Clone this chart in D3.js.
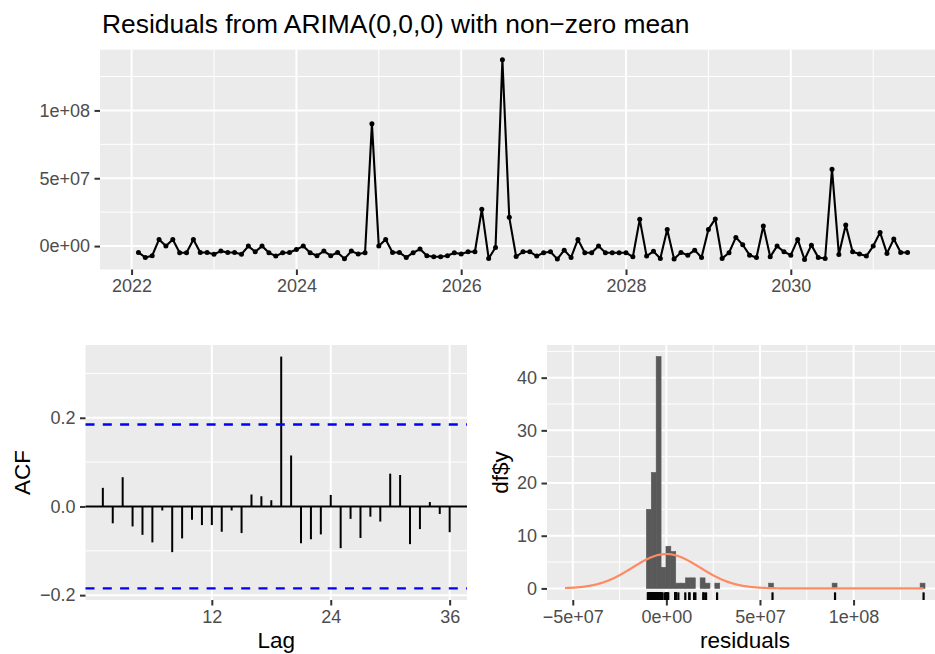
<!DOCTYPE html>
<html>
<head>
<meta charset="utf-8">
<script src="https://cdn.jsdelivr.net/npm/d3@7"></script>
<style>
  body { margin: 0; background: #fff; }
  svg { display: block; font-family: "Liberation Sans", Arial, sans-serif; }
</style>
</head>
<body>
<svg id="chart"></svg>
<script>
const width = 935;
const height = 654;

const title = 'Residuals from ARIMA(0,0,0) with non\u2212zero mean';

// monthly series, starts Feb 2022; values in units of 1e7
const startYear = 2022;
const startMonth = 2;
const unit = 1e7;
const residualsE7 = [
  -0.47, -0.84, -0.71, 0.49, 0.00, 0.49, -0.49, -0.49, 0.49, -0.47,
  -0.47, -0.60, -0.37, -0.47, -0.47, -0.60, 0.00, -0.42, 0.00, -0.49,
  -0.74, -0.49, -0.47, -0.25, 0.00, -0.49, -0.71, -0.37, -0.71, -0.47,
  -0.94, -0.37, -0.59, -0.49, 9.01, 0.00, 0.49, -0.47, -0.47, -0.84,
  -0.49, -0.22, -0.71, -0.79, -0.79, -0.71, -0.49, -0.59, -0.42, -0.42,
  2.71, -0.91, -0.10, 13.74, 2.12, -0.77, -0.42, -0.42, -0.74, -0.49,
  -0.42, -0.96, -0.30, -0.84, 0.49, -0.49, -0.49, 0.00, -0.49, -0.49,
  -0.49, -0.49, -0.79, 1.97, -0.74, -0.39, -0.91, 1.23, -0.96, -0.47,
  -0.67, -0.30, -0.84, 1.23, 2.00, -0.91, -0.49, 0.64, 0.10, -0.67,
  -0.84, 1.48, -0.79, 0.00, -0.42, -0.67, 0.49, -0.99, 0.07, -0.84,
  -0.91, 5.67, -0.62, 1.55, -0.42, -0.59, -0.74, 0.00, 1.01, -0.54,
  0.52, -0.47, -0.47
];
const yearTicks = [2022, 2024, 2026, 2028, 2030];
const yearMinor = [2023, 2025, 2027, 2029, 2031];
const residTicks = [0, 5e7, 1e8];
const residMinor = [2.5e7, 7.5e7, 1.25e8];

// ACF, lags 1..36
const acfValues = [
  0.042, -0.038, 0.066, -0.045, -0.064, -0.081, -0.009, -0.103, -0.072, -0.030,
  -0.042, -0.042, -0.057, -0.009, -0.060, 0.027, 0.023, 0.014, 0.338, 0.115,
  -0.083, -0.074, -0.063, 0.026, -0.094, -0.028, -0.071, -0.023, -0.034, 0.074,
  0.071, -0.085, -0.051, 0.010, -0.017, -0.058
];
const acfBound = 0.1848;
const lagTicks = [12, 24, 36];
const acfTicks = [-0.2, 0, 0.2];
const acfMinor = [-0.1, 0.1, 0.3];

// histogram of residuals
const binStart = -1.067e7;
const binWidth = 2.611e6;
const histCounts = [
  15, 22, 44, 4, 8, 7, 1, 1, 2, 2,
  0, 2, 1, 0, 1, 0, 0, 0, 0, 0,
  0, 0, 0, 0, 0, 1, 0, 0, 0, 0,
  0, 0, 0, 0, 0, 0, 0, 0, 1, 0,
  0, 0, 0, 0, 0, 0, 0, 0, 0, 0,
  0, 0, 0, 0, 0, 0, 1
];
const histXTicks = [-5e7, 0, 5e7, 1e8];
const histXMinor = [-2.5e7, 2.5e7, 7.5e7, 1.25e8];
const countTicks = [0, 10, 20, 30, 40];
const countMinor = [5, 15, 25, 35, 45];

const residuals = residualsE7.map(v => v * unit);
const series = residuals.map((v, i) => ({ t: startYear + (startMonth - 1 + i) / 12, v }));

const svg = d3.select('#chart').attr('width', width).attr('height', height);

const expand = ([a, b]) => { const d = (b - a) * 0.05; return [a - d, b + d]; };
const minus = s => s.replace(/-/g, '\u2212');
const sci = d => {
  const [m, e] = d.toExponential(0).split('e');
  return minus(m + 'e' + e[0] + e.slice(1).padStart(2, '0'));
};

const tickFont = 18;
const titleFont = 22.5;

function panel(g, x, y, xMajor, xMinor, yMajor, yMinor) {
  const [x0, x1] = x.range();
  const [y0, y1] = y.range();
  g.append('rect')
    .attr('x', x0).attr('y', y1)
    .attr('width', x1 - x0).attr('height', y0 - y1)
    .attr('fill', '#ebebeb');
  const inX = v => x(v) >= x0 && x(v) <= x1;
  const inY = v => y(v) <= y0 && y(v) >= y1;
  g.selectAll('.vminor').data(xMinor.filter(inX)).join('line')
    .attr('x1', d => x(d)).attr('x2', d => x(d)).attr('y1', y0).attr('y2', y1)
    .attr('stroke', '#fff').attr('stroke-width', 1);
  g.selectAll('.hminor').data(yMinor.filter(inY)).join('line')
    .attr('y1', d => y(d)).attr('y2', d => y(d)).attr('x1', x0).attr('x2', x1)
    .attr('stroke', '#fff').attr('stroke-width', 1);
  g.selectAll('.vmajor').data(xMajor.filter(inX)).join('line')
    .attr('x1', d => x(d)).attr('x2', d => x(d)).attr('y1', y0).attr('y2', y1)
    .attr('stroke', '#fff').attr('stroke-width', 2);
  g.selectAll('.hmajor').data(yMajor.filter(inY)).join('line')
    .attr('y1', d => y(d)).attr('y2', d => y(d)).attr('x1', x0).attr('x2', x1)
    .attr('stroke', '#fff').attr('stroke-width', 2);
}

function axes(g, x, y, xTicks, xFmt, yTicks, yFmt) {
  const ax = g.append('g')
    .attr('transform', `translate(0,${y.range()[0]})`)
    .call(d3.axisBottom(x).tickValues(xTicks).tickFormat(xFmt).tickSize(5.5).tickPadding(4.5));
  const ay = g.append('g')
    .attr('transform', `translate(${x.range()[0]},0)`)
    .call(d3.axisLeft(y).tickValues(yTicks).tickFormat(yFmt).tickSize(5.5).tickPadding(4.5));
  [ax, ay].forEach(a => {
    a.select('.domain').remove();
    a.selectAll('.tick line').attr('stroke', '#333').attr('stroke-width', 2);
    a.selectAll('.tick text')
      .attr('fill', '#4d4d4d')
      .style('font-size', tickFont + 'px')
      .style('font-family', '"Liberation Sans", Arial, sans-serif');
  });
}

// ---- top: residual time series
const xTime = d3.scaleLinear()
  .domain(expand(d3.extent(series, d => d.t)))
  .range([100, 946]);
const yRes = d3.scaleLinear()
  .domain(expand(d3.extent(residuals)))
  .range([269.5, 49.7]);

const tsPanel = svg.append('g');
panel(tsPanel, xTime, yRes, yearTicks, yearMinor, residTicks, residMinor);

tsPanel.append('path')
  .datum(series)
  .attr('fill', 'none')
  .attr('stroke', '#000')
  .attr('stroke-width', 2.1)
  .attr('stroke-linejoin', 'round')
  .attr('d', d3.line().x(d => xTime(d.t)).y(d => yRes(d.v)));

tsPanel.selectAll('circle')
  .data(series)
  .join('circle')
  .attr('cx', d => xTime(d.t))
  .attr('cy', d => yRes(d.v))
  .attr('r', 2.5)
  .attr('fill', '#000');

axes(tsPanel, xTime, yRes, yearTicks, d3.format('d'), residTicks, sci);

svg.append('text')
  .attr('x', 102)
  .attr('y', 33)
  .style('font-size', '26.4px')
  .attr('fill', '#000')
  .text(title);

// ---- bottom left: ACF
const lags = acfValues.map((v, i) => i + 1);
const xLag = d3.scaleLinear()
  .domain(expand(d3.extent(lags)))
  .range([85.5, 467]);
const yAcf = d3.scaleLinear()
  .domain(expand([Math.min(-acfBound, d3.min(acfValues)), Math.max(acfBound, d3.max(acfValues))]))
  .range([600, 345]);

const acfPanel = svg.append('g');
panel(acfPanel, xLag, yAcf, lagTicks, [], acfTicks, acfMinor);

acfPanel.append('line')
  .attr('x1', xLag.range()[0]).attr('x2', xLag.range()[1])
  .attr('y1', yAcf(0)).attr('y2', yAcf(0))
  .attr('stroke', '#000').attr('stroke-width', 2);

acfPanel.selectAll('.bar')
  .data(acfValues)
  .join('line')
  .attr('x1', (d, i) => xLag(lags[i]))
  .attr('x2', (d, i) => xLag(lags[i]))
  .attr('y1', yAcf(0))
  .attr('y2', d => yAcf(d))
  .attr('stroke', '#000')
  .attr('stroke-width', 2);

acfPanel.selectAll('.bound')
  .data([acfBound, -acfBound])
  .join('line')
  .attr('x1', xLag.range()[0]).attr('x2', xLag.range()[1])
  .attr('y1', d => yAcf(d)).attr('y2', d => yAcf(d))
  .attr('stroke', '#0000ff')
  .attr('stroke-width', 2.4)
  .attr('stroke-dasharray', '9,8.3');

axes(acfPanel, xLag, yAcf, lagTicks, d3.format('d'), acfTicks, d => minus(d3.format('.1f')(d)));

acfPanel.append('text')
  .attr('x', (xLag.range()[0] + xLag.range()[1]) / 2)
  .attr('y', 648)
  .attr('text-anchor', 'middle')
  .style('font-size', titleFont + 'px')
  .text('Lag');

acfPanel.append('text')
  .attr('transform', `translate(30,${(yAcf.range()[0] + yAcf.range()[1]) / 2}) rotate(-90)`)
  .attr('text-anchor', 'middle')
  .style('font-size', titleFont + 'px')
  .text('ACF');

// ---- bottom right: histogram
const bins = histCounts.map((c, i) => ({ x0: binStart + i * binWidth, x1: binStart + (i + 1) * binWidth, c }));
const mean = d3.mean(residuals);
const sd = d3.deviation(residuals);
const curveMin = Math.min(d3.min(residuals), mean - 3 * sd);
const curveMax = Math.max(d3.max(residuals), mean + 3 * sd);
const curve = d3.range(512).map(i => {
  const xv = curveMin + i * (curveMax - curveMin) / 511;
  const z = (xv - mean) / sd;
  return { x: xv, y: residuals.length * binWidth * Math.exp(-0.5 * z * z) / (sd * Math.sqrt(2 * Math.PI)) };
});

const xHist = d3.scaleLinear()
  .domain(expand([Math.min(curveMin, bins[0].x0), Math.max(curveMax, bins[bins.length - 1].x1)]))
  .range([547, 943]);
const yHist = d3.scaleLinear()
  .domain(expand([0, d3.max(histCounts)]))
  .range([600, 345]);

const histPanel = svg.append('g');
panel(histPanel, xHist, yHist, histXTicks, histXMinor, countTicks, countMinor);

histPanel.selectAll('.hbar')
  .data(bins.filter(b => b.c > 0))
  .join('rect')
  .attr('x', d => xHist(d.x0))
  .attr('width', d => xHist(d.x1) - xHist(d.x0))
  .attr('y', d => yHist(d.c))
  .attr('height', d => yHist(0) - yHist(d.c))
  .attr('fill', '#595959')
  .attr('stroke', '#595959')
  .attr('stroke-width', 0.6);

histPanel.append('path')
  .datum(curve)
  .attr('fill', 'none')
  .attr('stroke', '#ff8a62')
  .attr('stroke-width', 2.2)
  .attr('d', d3.line().x(d => xHist(d.x)).y(d => yHist(d.y)));

const rugLen = (yHist.range()[0] - yHist.range()[1]) * 0.03;
histPanel.selectAll('.rug')
  .data(residuals)
  .join('line')
  .attr('x1', d => xHist(d)).attr('x2', d => xHist(d))
  .attr('y1', yHist.range()[0]).attr('y2', yHist.range()[0] - rugLen)
  .attr('stroke', '#000')
  .attr('stroke-width', 2.2);

axes(histPanel, xHist, yHist, histXTicks, sci, countTicks, d3.format('d'));

histPanel.append('text')
  .attr('x', (xHist.range()[0] + xHist.range()[1]) / 2)
  .attr('y', 648)
  .attr('text-anchor', 'middle')
  .style('font-size', titleFont + 'px')
  .text('residuals');

histPanel.append('text')
  .attr('transform', `translate(508,${(yHist.range()[0] + yHist.range()[1]) / 2}) rotate(-90)`)
  .attr('text-anchor', 'middle')
  .style('font-size', titleFont + 'px')
  .text('df$y');
</script>
</body>
</html>
